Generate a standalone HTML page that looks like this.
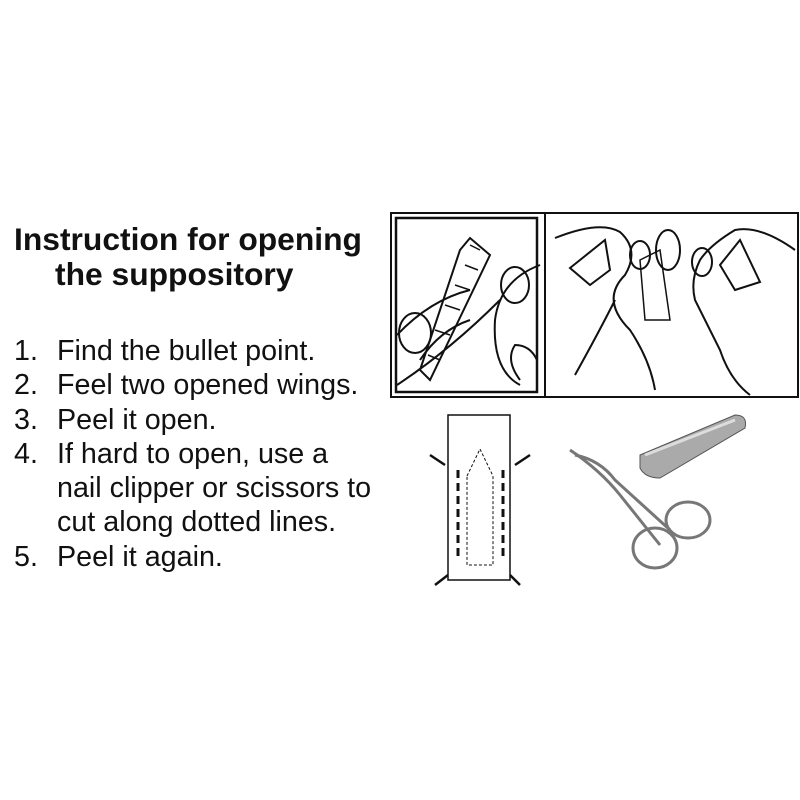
<!DOCTYPE html>
<html><head><style>
body{margin:0;width:800px;height:800px;background:#fff;position:relative;overflow:hidden;font-family:"Liberation Sans",Arial,sans-serif;color:#111}
.t{position:absolute;left:14px;top:222px;font-weight:bold;font-size:31.8px;line-height:35px;white-space:nowrap}
.l{position:absolute;left:14px;top:334px;font-size:28.7px;line-height:34.3px}
.l div{white-space:nowrap;position:relative;padding-left:43px}
.l span{position:absolute;left:0}
</style></head><body>
<div class="t">Instruction for opening<br><span style="padding-left:41px">the suppository</span></div>
<div class="l">
<div><span>1.</span>Find the bullet point.</div>
<div><span>2.</span>Feel two opened wings.</div>
<div><span>3.</span>Peel it open.</div>
<div><span>4.</span>If hard to open, use a</div>
<div>nail clipper or scissors to</div>
<div>cut along dotted lines.</div>
<div><span>5.</span>Peel it again.</div>
</div>
<svg width="800" height="800" style="position:absolute;left:0;top:0" fill="none" stroke="#111" stroke-width="2">
<rect x="391" y="213" width="407" height="184" stroke-width="2"/>
<rect x="396" y="218" width="141" height="174" stroke-width="2.5"/>
<line x1="545" y1="213" x2="545" y2="397"/>
<path d="M397 335 Q430 300 470 290 M397 385 Q450 350 500 300 M420 360 Q440 330 470 320 M460 250 L470 238 L490 255 L430 380 L420 370 Z" />
<path d="M470 245 L480 250 M465 265 L478 270 M455 285 L470 290 M445 305 L460 310 M435 330 L450 335 M428 355 L440 360" stroke-width="1.5"/>
<ellipse cx="415" cy="333" rx="16" ry="20"/>
<ellipse cx="515" cy="285" rx="14" ry="18"/>
<path d="M540 265 Q500 280 495 320 Q492 370 520 385 M520 380 Q505 360 515 345 Q530 345 537 360"/>
<path d="M555 238 Q600 220 620 232 Q640 250 625 275 Q600 300 630 330 Q650 360 655 390 M575 375 Q600 330 615 300"/>
<path d="M570 268 L605 240 L610 270 L590 285 Z M735 290 L760 282 L740 240 L720 265 Z"/>
<path d="M640 260 L660 250 L670 320 L645 320 Z" stroke-width="1.5"/>
<ellipse cx="668" cy="250" rx="12" ry="20"/>
<path d="M795 250 Q760 225 735 230 Q710 245 700 260 Q690 280 695 300 Q710 330 720 350 Q730 380 750 395"/>
<ellipse cx="640" cy="255" rx="10" ry="14"/>
<ellipse cx="702" cy="262" rx="10" ry="14"/>
<rect x="448" y="415" width="62" height="165" stroke-width="1.5"/>
<path d="M467 476 L480 449 L493 476 L493 565 L467 565 Z" stroke-width="1" stroke-dasharray="3 2"/>
<path d="M458 470 L458 560 M503 470 L503 560" stroke-width="3" stroke-dasharray="8 5"/>
<path d="M430 455 L445 465 M530 455 L515 465 M435 585 L448 575 M520 585 L510 575" stroke-width="2.5"/>
<path d="M640 455 L735 415 Q748 415 745 428 L660 478 Q645 478 640 468 Z" fill="#aaa" stroke="#555" stroke-width="1"/>
<path d="M645 455 L735 420" stroke="#ddd" stroke-width="3"/>
<g stroke="#777" stroke-width="3">
<path d="M570 450 Q600 470 620 495 L660 545"/>
<path d="M575 455 Q600 460 615 480 L670 530"/>
<ellipse cx="688" cy="520" rx="22" ry="18"/>
<ellipse cx="655" cy="548" rx="22" ry="20"/>
</g>
</svg>
</body></html>
